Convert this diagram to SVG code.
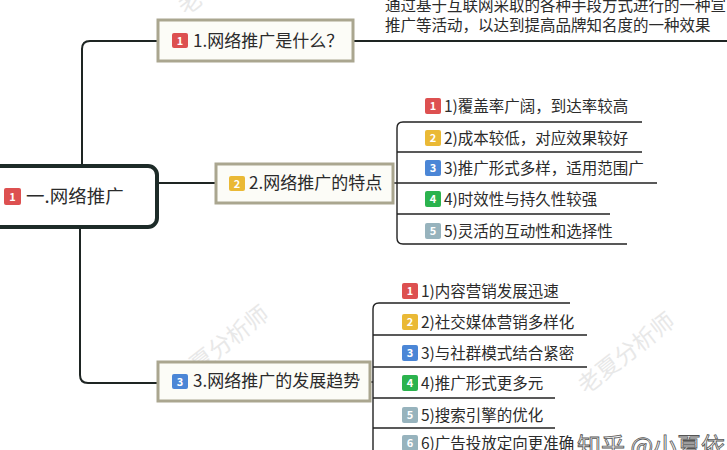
<svg xmlns="http://www.w3.org/2000/svg" width="727" height="450" viewBox="0 0 727 450">
<style>
text{font-family:"Noto Sans CJK SC","Noto Sans",sans-serif;fill:#2b2b2b}
.node{fill:#fcfcf7;stroke:#aaa68f;stroke-width:3}
.root{fill:#ffffff;stroke:#1d2b28;stroke-width:4}
.conn{fill:none;stroke:#1e2523;stroke-width:2}
.sub{fill:none;stroke:#222;stroke-width:1.4}
.t18{font-size:17px}
.t15{font-size:15.5px}
.b{font-size:11px;font-weight:bold;fill:#fff;text-anchor:middle}
.wm{font-size:23px;fill:#e8e8e8}
.r{fill:#dd5050}.y{fill:#eab935}.bl{fill:#4b86d6}.g{fill:#2bb34e}.gr{fill:#97b3bd}
</style>
<rect width="727" height="450" fill="#ffffff"/>
<g id="watermarks">
<text class="wm" transform="translate(586,395) rotate(-38)">老夏分析师</text>
<text class="wm" transform="translate(180,388) rotate(-38)">老夏分析师</text>
<text class="wm" transform="translate(186,16) rotate(-38)">老</text>
</g>
<g id="connectors">
<path class="conn" d="M82,166 V49 Q82,41 90,41 H158"/>
<path class="conn" d="M80,227 V375 Q80,383 88,383 H158"/>
<path class="conn" d="M157,183 H216"/>
<path class="conn" d="M353,41 H727"/>
<path class="sub" d="M393,183 H657"/>
<path class="sub" d="M642,122 H403 Q397,122 397,128 V238 Q397,244 403,244 H627"/>
<path class="sub" d="M397,152 H642"/>
<path class="sub" d="M397,214 H610"/>
<path class="sub" d="M370,382 H373"/>
<path class="sub" d="M570,303 H379 Q373,303 373,309 V450"/>
<path class="sub" d="M373,335 H587"/>
<path class="sub" d="M373,367 H587"/>
<path class="sub" d="M373,398 H555"/>
<path class="sub" d="M373,428 H555"/>
<path class="sub" d="M373,459 H600"/>
</g>
<g id="desc">
<text class="t15" x="385" y="11">通过基于互联网采取的各种手段方式进行的一种宣</text>
<text class="t15" x="385" y="31">推广等活动，以达到提高品牌知名度的一种效果</text>
</g>
<g id="root">
<rect class="root" x="-20" y="166" width="177" height="61" rx="9"/>
<rect class="r" x="4" y="188" width="17" height="17" rx="2"/>
<text class="b" x="12.5" y="201">1</text>
<text x="26" y="203" style="font-size:18.5px">一.网络推广</text>
</g>
<g id="n1">
<rect class="node" x="158" y="20" width="195" height="41"/>
<rect class="r" x="172" y="33" width="16" height="15" rx="2"/>
<text class="b" x="180" y="45">1</text>
<text class="t18" x="193" y="47">1.网络推广是什么？</text>
</g>
<g id="n2">
<rect class="node" x="216" y="164" width="177" height="39"/>
<rect class="y" x="229" y="176" width="16" height="15" rx="2"/>
<text class="b" x="237" y="188">2</text>
<text class="t18" x="249" y="189">2.网络推广的特点</text>
</g>
<g id="n3">
<rect class="node" x="158" y="362" width="212" height="39"/>
<rect class="bl" x="172" y="374" width="16" height="15" rx="2"/>
<text class="b" x="180" y="386">3</text>
<text class="t18" x="193" y="387">3.网络推广的发展趋势</text>
</g>
<g id="n2-1">
<rect class="r" x="425" y="98" width="16" height="16" rx="2"/><text class="b" x="433" y="110">1</text>
<text class="t15" x="444" y="112">1)覆盖率广阔，到达率较高</text>
</g>
<g id="n2-2">
<rect class="y" x="425" y="130" width="16" height="16" rx="2"/><text class="b" x="433" y="142">2</text>
<text class="t15" x="444" y="144">2)成本较低，对应效果较好</text>
</g>
<g id="n2-3">
<rect class="bl" x="425" y="160" width="16" height="16" rx="2"/><text class="b" x="433" y="172">3</text>
<text class="t15" x="444" y="174">3)推广形式多样，适用范围广</text>
</g>
<g id="n2-4">
<rect class="g" x="425" y="191" width="16" height="16" rx="2"/><text class="b" x="433" y="203">4</text>
<text class="t15" x="444" y="205">4)时效性与持久性较强</text>
</g>
<g id="n2-5">
<rect class="gr" x="425" y="223" width="16" height="16" rx="2"/><text class="b" x="433" y="235">5</text>
<text class="t15" x="444" y="237">5)灵活的互动性和选择性</text>
</g>
<g id="n3-1">
<rect class="r" x="402" y="283" width="16" height="16" rx="2"/><text class="b" x="410" y="295">1</text>
<text class="t15" x="421" y="297">1)内容营销发展迅速</text>
</g>
<g id="n3-2">
<rect class="y" x="402" y="314" width="16" height="16" rx="2"/><text class="b" x="410" y="326">2</text>
<text class="t15" x="421" y="328">2)社交媒体营销多样化</text>
</g>
<g id="n3-3">
<rect class="bl" x="402" y="345" width="16" height="16" rx="2"/><text class="b" x="410" y="357">3</text>
<text class="t15" x="421" y="359">3)与社群模式结合紧密</text>
</g>
<g id="n3-4">
<rect class="g" x="402" y="375" width="16" height="16" rx="2"/><text class="b" x="410" y="387">4</text>
<text class="t15" x="421" y="389">4)推广形式更多元</text>
</g>
<g id="n3-5">
<rect class="gr" x="402" y="407" width="16" height="16" rx="2"/><text class="b" x="410" y="419">5</text>
<text class="t15" x="421" y="421">5)搜索引擎的优化</text>
</g>
<g id="n3-6">
<rect class="gr" x="402" y="435" width="16" height="16" rx="2"/><text class="b" x="410" y="447">6</text>
<text class="t15" x="421" y="449">6)广告投放定向更准确</text>
</g>
<text x="577" y="455" style="font-size:24px;fill:#f4f4f4;stroke:#555;stroke-width:0.8">知乎 @小夏依</text>
</svg>
